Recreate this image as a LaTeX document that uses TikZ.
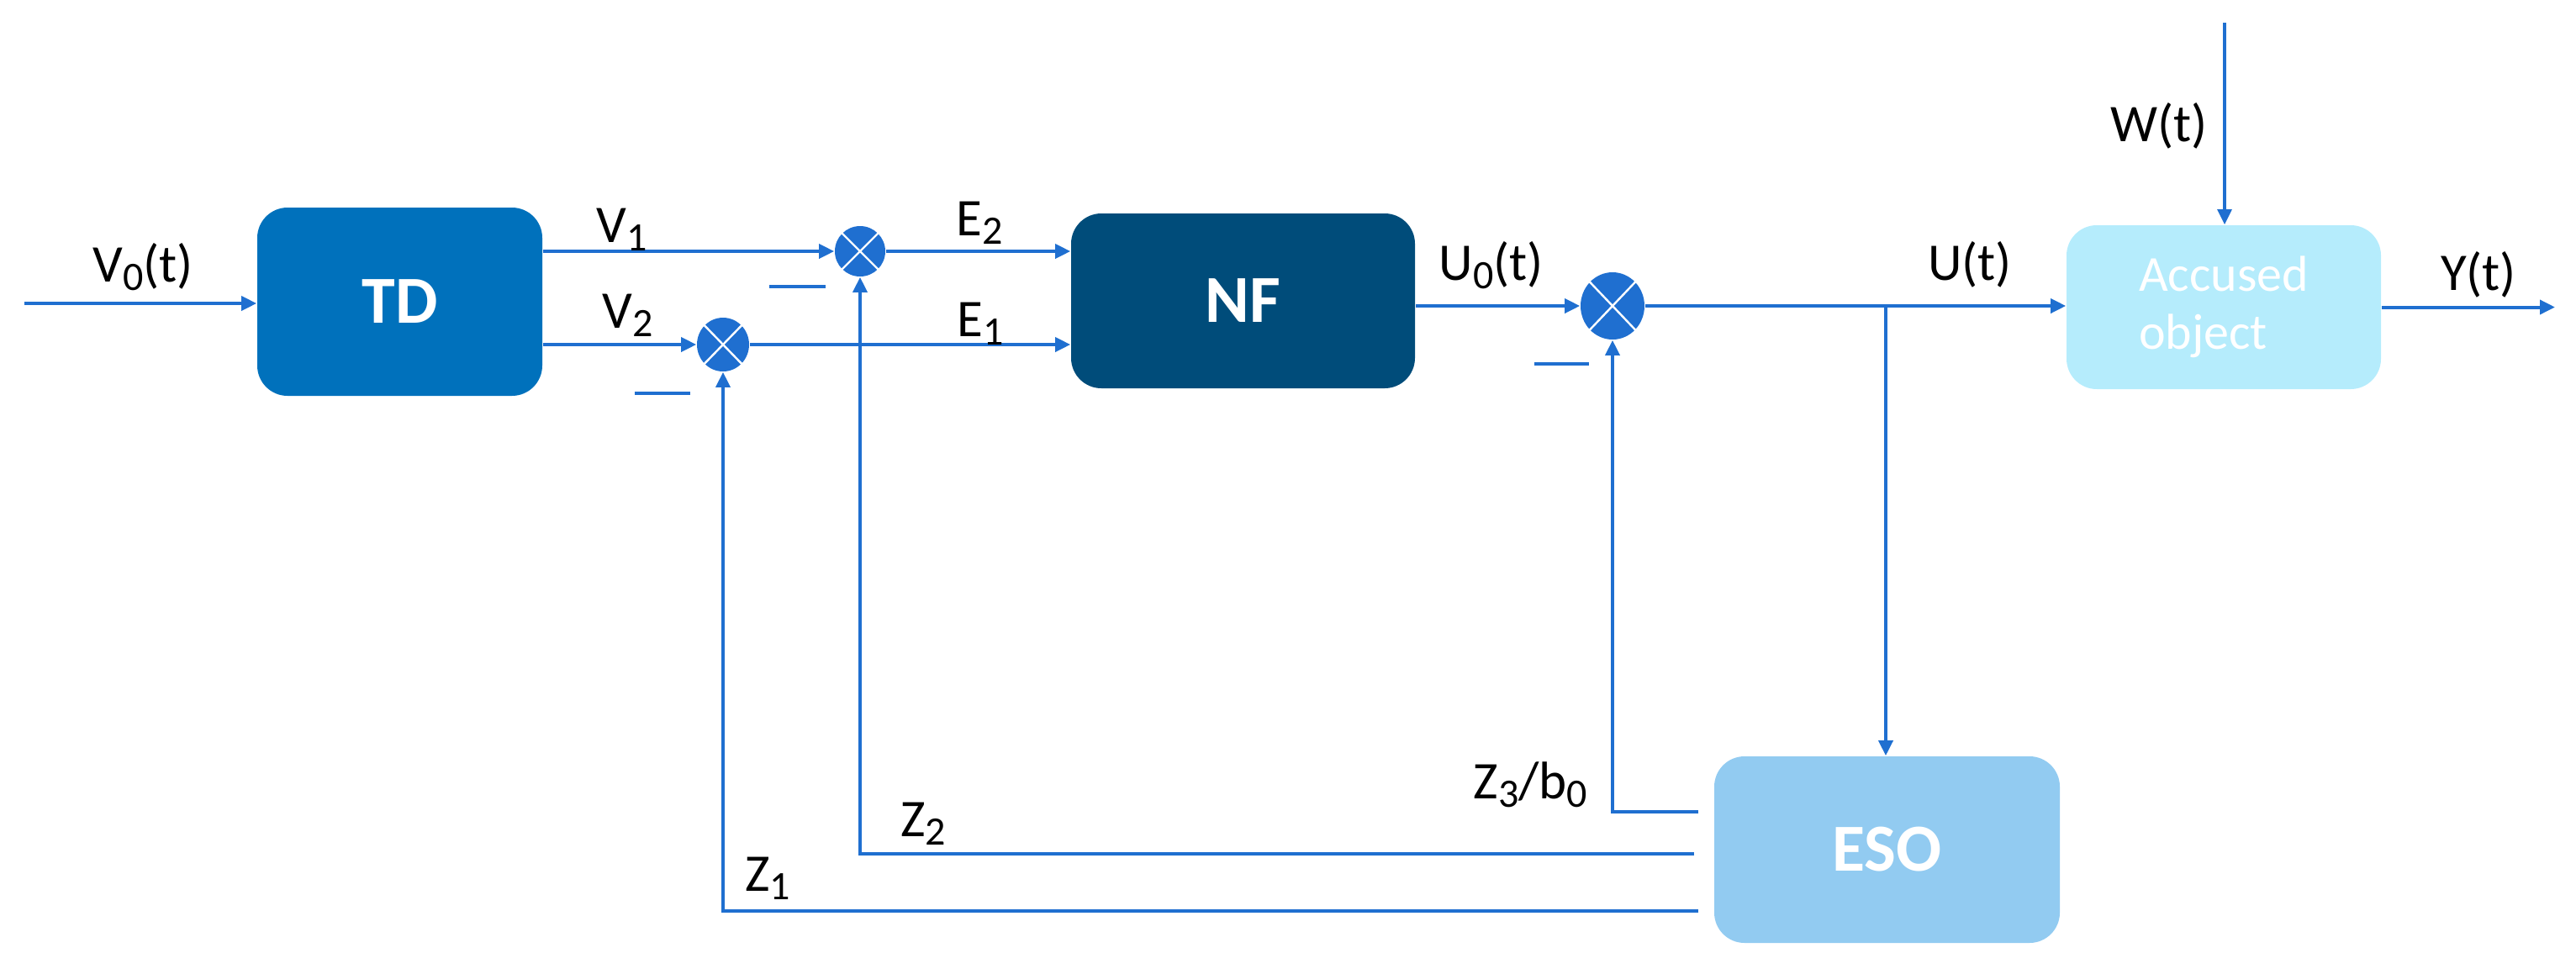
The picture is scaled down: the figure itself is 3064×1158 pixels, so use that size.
\documentclass[tikz,border=0pt]{standalone}
\usepackage{fontspec}
\setmainfont{Carlito}
\usetikzlibrary{arrows.meta,shapes.geometric,calc}
\definecolor{lc}{RGB}{31,111,208}
\definecolor{tdc}{RGB}{0,113,188}
\definecolor{nfc}{RGB}{0,76,122}
\definecolor{esoc}{RGB}{146,203,241}
\definecolor{accc}{RGB}{181,236,252}
\newcommand\sbs[1]{\raisebox{-2.6pt}{\fontsize{12}{12}\selectfont #1}}
\begin{document}
\begin{tikzpicture}[x=0.25pt,y=-0.25pt,
  arr/.style={draw=lc,line width=1pt,-{Triangle[length=4.5pt,width=4.2pt]}},
  ln/.style={draw=lc,line width=0.9pt},
  blk/.style={rounded corners=9pt,inner sep=0pt,text=white,font=\fontsize{20}{24}\selectfont\bfseries},
  sumn/.style={ellipse,fill=lc,inner sep=0pt},
  lab/.style={anchor=base,inner sep=0pt,font=\fontsize{15.75}{18}\selectfont},
]
\useasboundingbox (0,0) rectangle (3064,1158);
% blocks
\node[blk,fill=tdc,minimum width=84.75pt,minimum height=56pt] (td) at (475.5,359) {TD};
\node[blk,fill=nfc,minimum width=102.25pt,minimum height=52pt] (nf) at (1478.5,358) {NF};
\node[blk,fill=accc,minimum width=93.5pt,minimum height=48.75pt,font=\fontsize{15}{17.25}\selectfont,align=left] (acc) at (2645,365.5) {Accused\\object};
\node[blk,fill=esoc,minimum width=102.75pt,minimum height=55.5pt] (eso) at (2244.5,1011) {ESO};
% summing junctions
\node[sumn,minimum width=15pt,minimum height=15pt] (s1) at (1023,299) {};
\node[sumn,minimum width=15.5pt,minimum height=16pt] (s2) at (860,410) {};
\node[sumn,minimum width=19pt,minimum height=20pt] (s3) at (1918,364) {};
\foreach \s in {s1,s2,s3}{
  \draw[white,line width=0.6pt] (\s.north east) -- (\s.south west) (\s.north west) -- (\s.south east);
}
% free ends
\coordinate (vin) at (29,361);
\coordinate (j) at (2243,364);
\coordinate (win) at (2646,27);
\coordinate (yout) at (3039,365.5);
% connectors
\draw[arr] (vin) -- (vin -| td.west);
\draw[arr] (td.east |- s1) -- (s1.west);
\draw[arr] (td.east |- s2) -- (s2.west);
\draw[arr] (s1.east) -- (s1.east -| nf.west);
\draw[arr] (s2.east) -- (s2.east -| nf.west);
\draw[arr] (nf.east |- s3) -- (s3.west);
\draw[arr] (s3.east) -- (s3.east -| acc.west);
\draw[arr] (j) -- (j |- eso.north);
\draw[arr,line width=0.8pt] (win) -- (win |- acc.north);
\draw[arr] (acc.east) -- (yout);
\draw[arr] ([xshift=-4.5pt,yshift=11.25pt]eso.west) -| (s3.south);
\draw[arr] ([xshift=-5.75pt,yshift=-1.25pt]eso.west) -| (s1.south);
\draw[arr] ([xshift=-4.5pt,yshift=-18.25pt]eso.west) -| (s2.south);
% minus signs
\draw[ln] (915,341) -- (982,341);
\draw[ln] (755,468) -- (821,468);
\draw[ln] (1825,433) -- (1890,433);
% labels
\node[lab] (lv0) at (170,335) {V\sbs{0}(t)};
\node[lab] (lv1) at (740,288) {V\sbs{1}};
\node[lab] (lv2) at (747,390) {V\sbs{2}};
\node[lab] (le2) at (1165,280) {E\sbs{2}};
\node[lab] (le1) at (1166,400) {E\sbs{1}};
\node[lab] (lu0) at (1774,333) {U\sbs{0}(t)};
\node[lab] (lu) at (2343,333) {U(t)};
\node[lab] (lw) at (2568,168) {W(t)};
\node[lab] (ly) at (2948,345) {Y(t)};
\node[lab,anchor=base east] (lz3) at (1889,950) {Z\sbs{3}/b\sbs{0}};
\node[lab] (lz2) at (1098,995) {Z\sbs{2}};
\node[lab] (lz1) at (913,1060) {Z\sbs{1}};
\end{tikzpicture}
\end{document}
